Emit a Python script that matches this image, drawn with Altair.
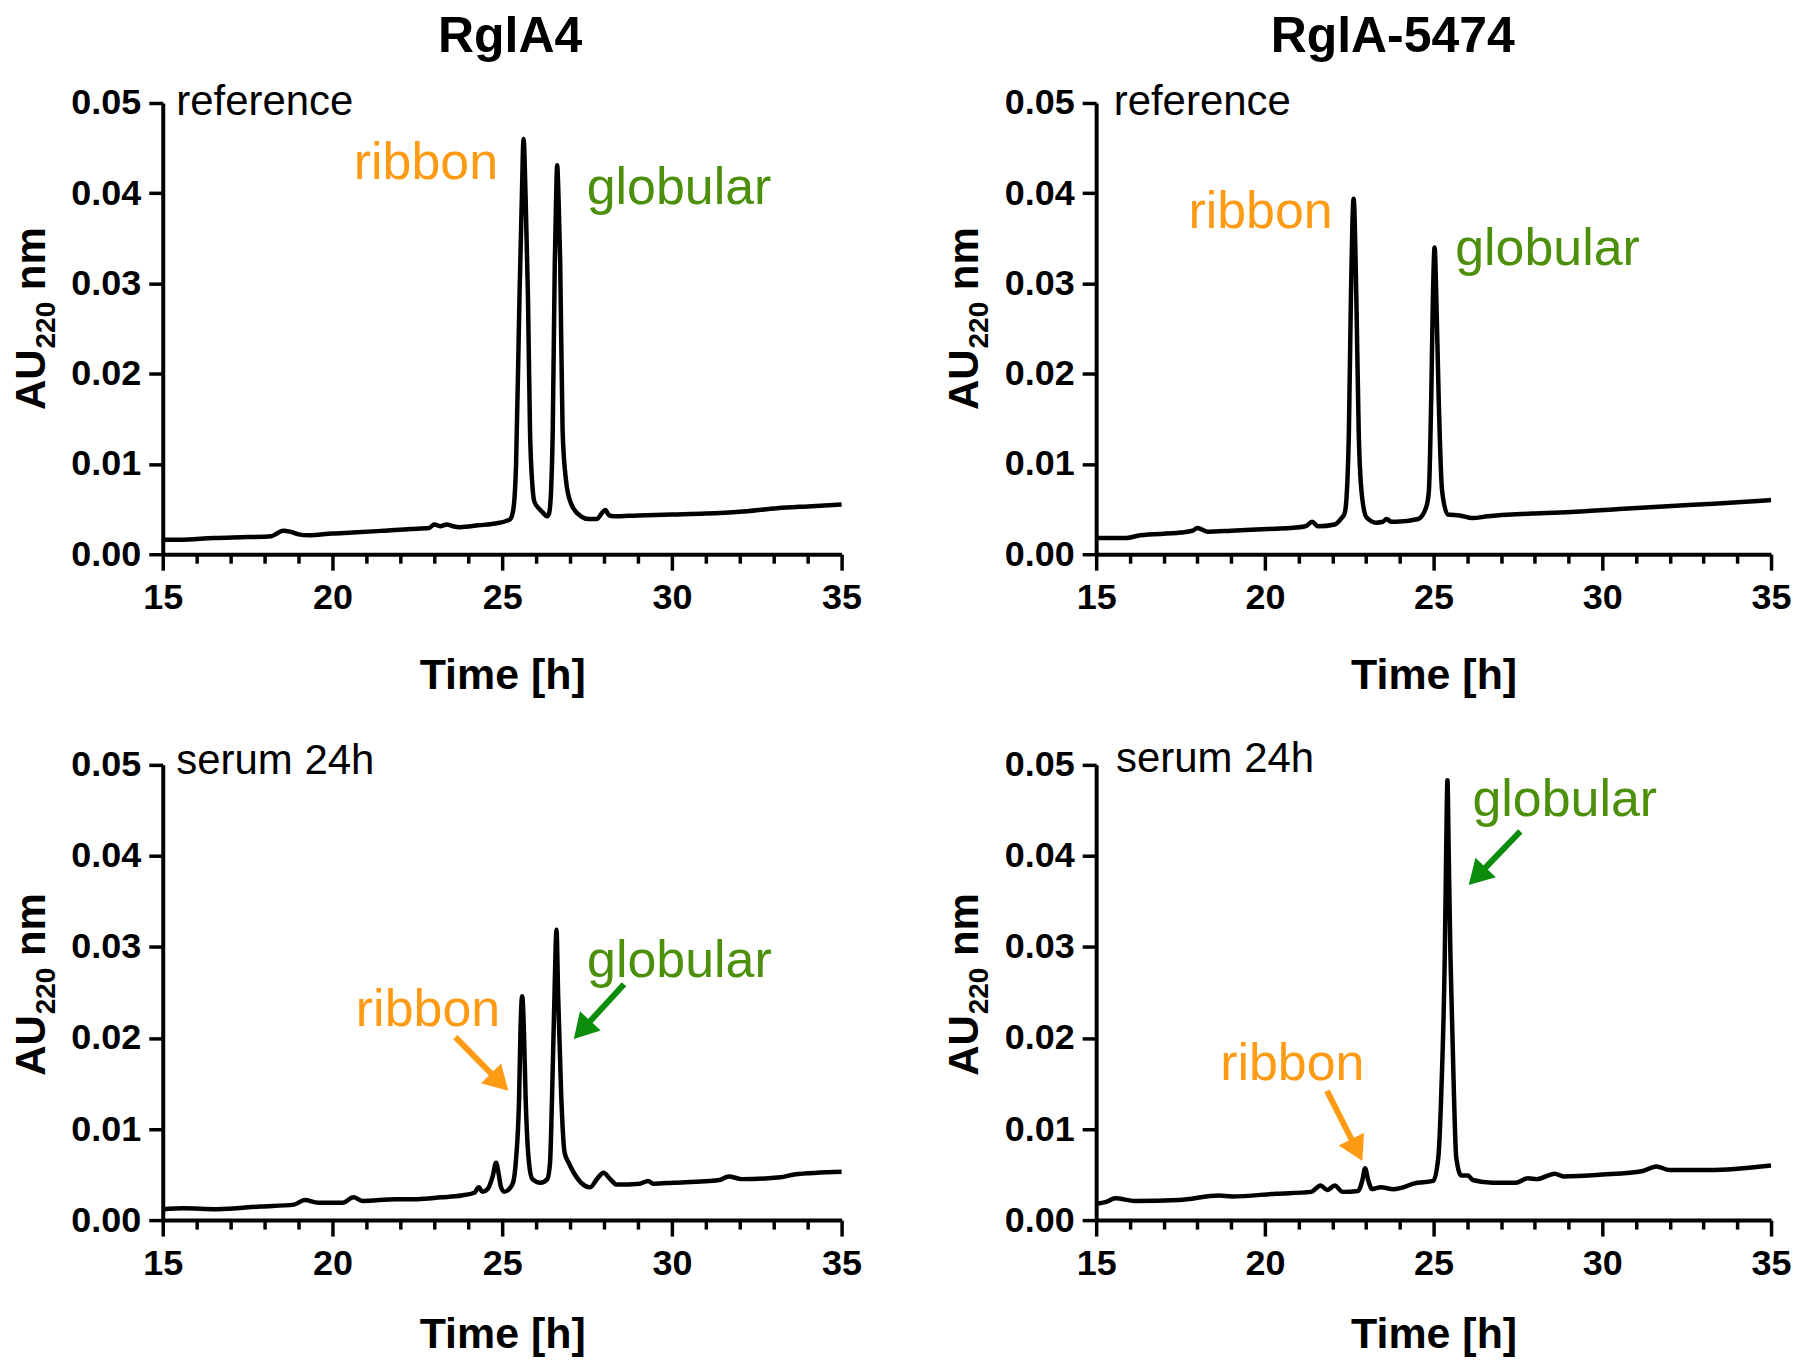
import math
import altair as alt
import pandas as pd

FONT = "Liberation Sans"
ORANGE = "#FF9A14"
GREEN_TXT = "#4C8F0B"
GREEN_ARW = "#0B8C0B"

# ---------------- data (time [h], AU220) ----------------
rgla4_reference = [
    (15.0, 0.0016), (15.5, 0.0016), (16.5, 0.0018), (17.5, 0.0019), (18.2, 0.0020),
    (18.55, 0.0026), (18.75, 0.0025), (19.0, 0.0022), (19.3, 0.0021), (20.0, 0.0023),
    (20.6, 0.0024), (21.5, 0.0026), (22.3, 0.0028), (22.84, 0.0029), (23.0, 0.0033),
    (23.17, 0.0031), (23.37, 0.0033), (23.55, 0.0031), (23.76, 0.0030), (24.3, 0.0032),
    (24.8, 0.0034), (25.14, 0.0037), (25.24, 0.0039), (25.33, 0.0050), (25.41, 0.0100),
    (25.51, 0.0285), (25.58, 0.0396), (25.63, 0.0460), (25.69, 0.0396), (25.76, 0.0285),
    (25.82, 0.0137), (25.88, 0.0082), (25.95, 0.0058), (26.1, 0.0050), (26.2, 0.0046),
    (26.32, 0.0042), (26.38, 0.0045), (26.44, 0.0070), (26.49, 0.0137), (26.55, 0.0322),
    (26.59, 0.0396), (26.62, 0.0431), (26.66, 0.0396), (26.71, 0.0322), (26.78, 0.0137),
    (26.88, 0.0082), (27.03, 0.0056), (27.32, 0.0042), (27.55, 0.0039), (27.78, 0.0039),
    (27.95, 0.0046), (28.04, 0.0049), (28.15, 0.0043), (28.3, 0.0042), (29.0, 0.0043),
    (30.0, 0.0044), (31.0, 0.0045), (32.0, 0.0047), (33.1, 0.0051), (34.0, 0.0053),
    (35.0, 0.0055),
]

rgla5474_reference = [
    (15.0, 0.0018), (15.9, 0.0018), (16.3, 0.0021), (17.5, 0.0024), (17.85, 0.0026),
    (18.0, 0.0029), (18.3, 0.0025), (19.0, 0.0026), (20.1, 0.0028), (20.74, 0.0029),
    (21.2, 0.0031), (21.4, 0.0036), (21.57, 0.0031), (22.07, 0.0033), (22.27, 0.0040),
    (22.36, 0.0045), (22.42, 0.0063), (22.49, 0.0137), (22.55, 0.0285), (22.63, 0.0394),
    (22.71, 0.0285), (22.78, 0.0137), (22.86, 0.0071), (23.01, 0.0041), (23.3, 0.0035),
    (23.5, 0.0036), (23.6, 0.0039), (23.75, 0.0036), (23.9, 0.0036), (24.54, 0.0039),
    (24.78, 0.0052), (24.86, 0.0070), (24.93, 0.0174), (24.98, 0.0285), (25.03, 0.0340),
    (25.08, 0.0285), (25.15, 0.0174), (25.25, 0.0071), (25.42, 0.0044), (25.77, 0.0043),
    (26.15, 0.0040), (26.6, 0.0042), (27.9, 0.0045), (29.2, 0.0047), (30.5, 0.0050),
    (31.8, 0.0053), (33.3, 0.0056), (35.0, 0.0060),
]

rgla4_serum = [
    (15.0, 0.0012), (15.6, 0.0013), (16.6, 0.0012), (17.9, 0.0015), (18.86, 0.0017),
    (19.18, 0.0022), (19.58, 0.0019), (20.3, 0.0019), (20.62, 0.0025), (20.88, 0.0021),
    (21.86, 0.0023), (22.5, 0.0023), (23.2, 0.0025), (23.8, 0.0027), (24.18, 0.0030),
    (24.31, 0.0036), (24.42, 0.0031), (24.57, 0.0034), (24.72, 0.0048), (24.82, 0.0063),
    (24.9, 0.0050), (24.96, 0.0037), (25.06, 0.0031), (25.2, 0.0034), (25.32, 0.0041),
    (25.4, 0.0063), (25.5, 0.0136), (25.54, 0.0209), (25.59, 0.0246), (25.64, 0.0209),
    (25.69, 0.0136), (25.79, 0.0063), (25.89, 0.0045), (26.13, 0.0041), (26.33, 0.0045),
    (26.41, 0.0063), (26.47, 0.0136), (26.54, 0.0245), (26.6, 0.0319), (26.65, 0.0245),
    (26.74, 0.0136), (26.84, 0.0074), (26.96, 0.0063), (27.11, 0.0052), (27.3, 0.0042),
    (27.6, 0.0036), (27.79, 0.0045), (27.99, 0.0052), (28.18, 0.0045), (28.38, 0.0039),
    (29.06, 0.0040), (29.3, 0.0043), (29.45, 0.0040), (30.04, 0.0041), (31.4, 0.0044),
    (31.67, 0.0048), (32.06, 0.0045), (33.2, 0.0047), (33.6, 0.0050), (35.0, 0.0053),
]

rgla5474_serum = [
    (15.0, 0.0018), (15.3, 0.0020), (15.56, 0.0024), (16.15, 0.0021), (17.46, 0.0022),
    (18.64, 0.0027), (19.03, 0.0026), (20.34, 0.0029), (21.37, 0.0031), (21.65, 0.0038),
    (21.85, 0.0033), (22.07, 0.0038), (22.3, 0.0031), (22.76, 0.0032), (22.89, 0.0044),
    (22.97, 0.0057), (23.06, 0.0044), (23.18, 0.0034), (23.43, 0.0036), (23.82, 0.0034),
    (24.1, 0.0036), (24.4, 0.0040), (24.99, 0.0043), (25.14, 0.0069), (25.23, 0.0142),
    (25.33, 0.0288), (25.37, 0.0398), (25.41, 0.0483), (25.45, 0.0398), (25.5, 0.0288),
    (25.6, 0.0142), (25.67, 0.0069), (25.82, 0.0049), (26.02, 0.0049), (26.16, 0.0044),
    (26.75, 0.0041), (27.43, 0.0041), (27.8, 0.0046), (28.06, 0.0045), (28.59, 0.0051),
    (28.85, 0.0048), (30.0, 0.0050), (31.2, 0.0054), (31.6, 0.0059), (31.99, 0.0055),
    (33.17, 0.0055), (35.0, 0.0060),
]

column_titles = ["RglA4", "RglA-5474"]
x_ticks = list(range(15, 36))
y_ticks = [0.0, 0.01, 0.02, 0.03, 0.04, 0.05]
x_title = "Time [h]"
y_title_parts = ["AU", "220", "nm"]   # "AU" + subscript "220" + " nm"

# annotations: (text, time, AU, colour, align, font size)
labels_tl = [("reference", 15.4, 0.0501, "black", "left", 42),
             ("ribbon", 24.88, 0.0433, ORANGE, "right", 52),
             ("globular", 27.49, 0.0406, GREEN_TXT, "left", 52)]
labels_tr = [("reference", 15.52, 0.0501, "black", "left", 42),
             ("ribbon", 22.01, 0.0379, ORANGE, "right", 52),
             ("globular", 25.64, 0.0338, GREEN_TXT, "left", 52)]
labels_bl = [("serum 24h", 15.4, 0.0504, "black", "left", 42),
             ("ribbon", 24.94, 0.0231, ORANGE, "right", 52),
             ("globular", 27.5, 0.0284, GREEN_TXT, "left", 52)]
labels_br = [("serum 24h", 15.59, 0.0506, "black", "left", 42),
             ("ribbon", 22.95, 0.0171, ORANGE, "right", 52),
             ("globular", 26.15, 0.0461, GREEN_TXT, "left", 52)]

# arrows: (tail time, tail AU, tip time, tip AU, colour)
arrows_bl = [(23.62, 0.0201, 25.18, 0.0142, ORANGE),
             (28.59, 0.0259, 27.11, 0.0199, GREEN_ARW)]
arrows_br = [(21.84, 0.0142, 22.89, 0.0065, ORANGE),
             (27.57, 0.0427, 26.04, 0.0368, GREEN_ARW)]

HEAD_SIZE = 800  # symbol area
HEAD_LEN = math.sqrt(3) / 2 * math.sqrt(HEAD_SIZE)

# Liberation Sans Bold advance widths (em) for the y title pieces
W_BOLD = {"A": .722, "U": .722, "2": .556, "0": .556, "n": .611, "m": .889, " ": .278}


def text_w(s, size):
    return sum(W_BOLD[c] for c in s) * size


def panel(series, labels, arrows, width, height, title_pad, ytitle_center,
          title=None, title_x=0):
    xs = alt.Scale(domain=[15, 35], nice=False, zero=False)
    ys = alt.Scale(domain=[0, 0.05], nice=False, zero=True)
    xaxis = alt.Axis(values=x_ticks, format="d",
                     labelExpr="datum.value % 5 === 0 ? datum.label : ''",
                     tickSize={"condition": {"test": "datum.value % 5 === 0", "value": 16}, "value": 9},
                     labelPadding=10, labelOverlap=False, labelFlush=False,
                     title=x_title, titleFontSize=43, titlePadding=title_pad)
    yaxis = alt.Axis(values=y_ticks, format=".2f", tickSize=14, labelPadding=8,
                     labelOverlap=False, labelFlush=False, title="")
    X = alt.X("t:Q", scale=xs, axis=xaxis)
    Y = alt.Y("au:Q", scale=ys, axis=yaxis)

    df = pd.DataFrame(series, columns=["t", "au"])
    layers = [alt.Chart(df).mark_line(color="black", strokeWidth=4.5, interpolate="monotone")
              .encode(x=X, y=Y)]

    ldf = pd.DataFrame(labels, columns=["txt", "t", "au", "c", "align", "size"])
    for (al, sz), g in ldf.groupby(["align", "size"]):
        layers.append(alt.Chart(g).mark_text(font=FONT, fontSize=int(sz), align=al, baseline="middle")
                      .encode(x=X, y=Y, text="txt:N", color=alt.Color("c:N", scale=None)))

    if arrows:
        kx = width / 20.0
        ky = height / 0.05
        shafts, heads = [], []
        for t0, v0, t1, v1, c in arrows:
            dxp = (t1 - t0) * kx
            dyp = -(v1 - v0) * ky
            L = math.hypot(dxp, dyp)
            ux, uy = dxp / L, dyp / L
            ang = math.degrees(math.atan2(ux, -uy)) % 360
            hc_t = t1 - ux * (HEAD_LEN / 2) / kx
            hc_v = v1 + uy * (HEAD_LEN / 2) / ky
            se_t = t1 - ux * (HEAD_LEN - 3) / kx
            se_v = v1 + uy * (HEAD_LEN - 3) / ky
            shafts.append({"t": t0, "au": v0, "t2": se_t, "au2": se_v, "c": c})
            heads.append({"t": hc_t, "au": hc_v, "ang": ang, "c": c})
        layers.append(alt.Chart(pd.DataFrame(shafts)).mark_rule(strokeWidth=6, strokeCap="butt")
                      .encode(x=X, y=Y, x2="t2:Q", y2="au2:Q", color=alt.Color("c:N", scale=None)))
        layers.append(alt.Chart(pd.DataFrame(heads))
                      .mark_point(shape="triangle-up", filled=True, size=HEAD_SIZE, opacity=1, strokeWidth=0)
                      .encode(x=X, y=Y, angle=alt.Angle("ang:Q", scale=None),
                              color=alt.Color("c:N", scale=None)))

    # y-axis title built from pieces so that "220" is a real subscript
    big, small = 42, 28
    xb = -118
    gap = 1
    w_au = text_w("AU", big)
    w_sub = text_w("220", small)
    w_sp = text_w(" ", big)
    total = w_au + gap + w_sub + w_sp + text_w("nm", big)
    y0 = ytitle_center + total / 2
    pieces = [
        (y_title_parts[0], big, xb, y0),
        (y_title_parts[1], small, xb + 10, y0 - w_au - gap),
        (y_title_parts[2], big, xb, y0 - w_au - gap - w_sub - w_sp),
    ]
    one = pd.DataFrame({"k": [0]})
    for txt, sz, px, py in pieces:
        layers.append(alt.Chart(one).mark_text(font=FONT, fontSize=sz, fontWeight="bold", angle=270,
                                               align="left", baseline="alphabetic", color="black")
                      .encode(x=alt.value(px), y=alt.value(py), text=alt.value(txt)))

    if title:
        layers.append(alt.Chart(pd.DataFrame({"lab": [title]}))
                      .mark_text(font=FONT, fontSize=50, fontWeight="bold", align="center",
                                 baseline="middle", color="black")
                      .encode(x=alt.value(title_x), y=alt.value(-66), text="lab:N"))

    return alt.layer(*layers).properties(width=width, height=height)


tl = panel(rgla4_reference, labels_tl, [], 680, 452, 40, 216, column_titles[0], 348)
tr = panel(rgla5474_reference, labels_tr, [], 676, 452, 40, 216, column_titles[1], 297)
bl = panel(rgla4_serum, labels_bl, arrows_bl, 680, 456, 33, 220)
br = panel(rgla5474_serum, labels_br, arrows_br, 676, 456, 33, 220)

chart = alt.vconcat(
    alt.hconcat(tl, tr, spacing=82),
    alt.hconcat(bl, br, spacing=82),
    spacing=40,
).properties(padding={"left": 3, "top": 3, "right": 0, "bottom": 0}).configure_view(stroke=None).configure_axis(
    domainColor="black", domainWidth=4, tickColor="black", tickWidth=3.5,
    labelColor="black", titleColor="black", labelFont=FONT, titleFont=FONT,
    labelFontWeight="bold", titleFontWeight="bold", labelFontSize=36, grid=False,
)

chart.save("out.html", embed_options={"renderer": "svg", "actions": False})
